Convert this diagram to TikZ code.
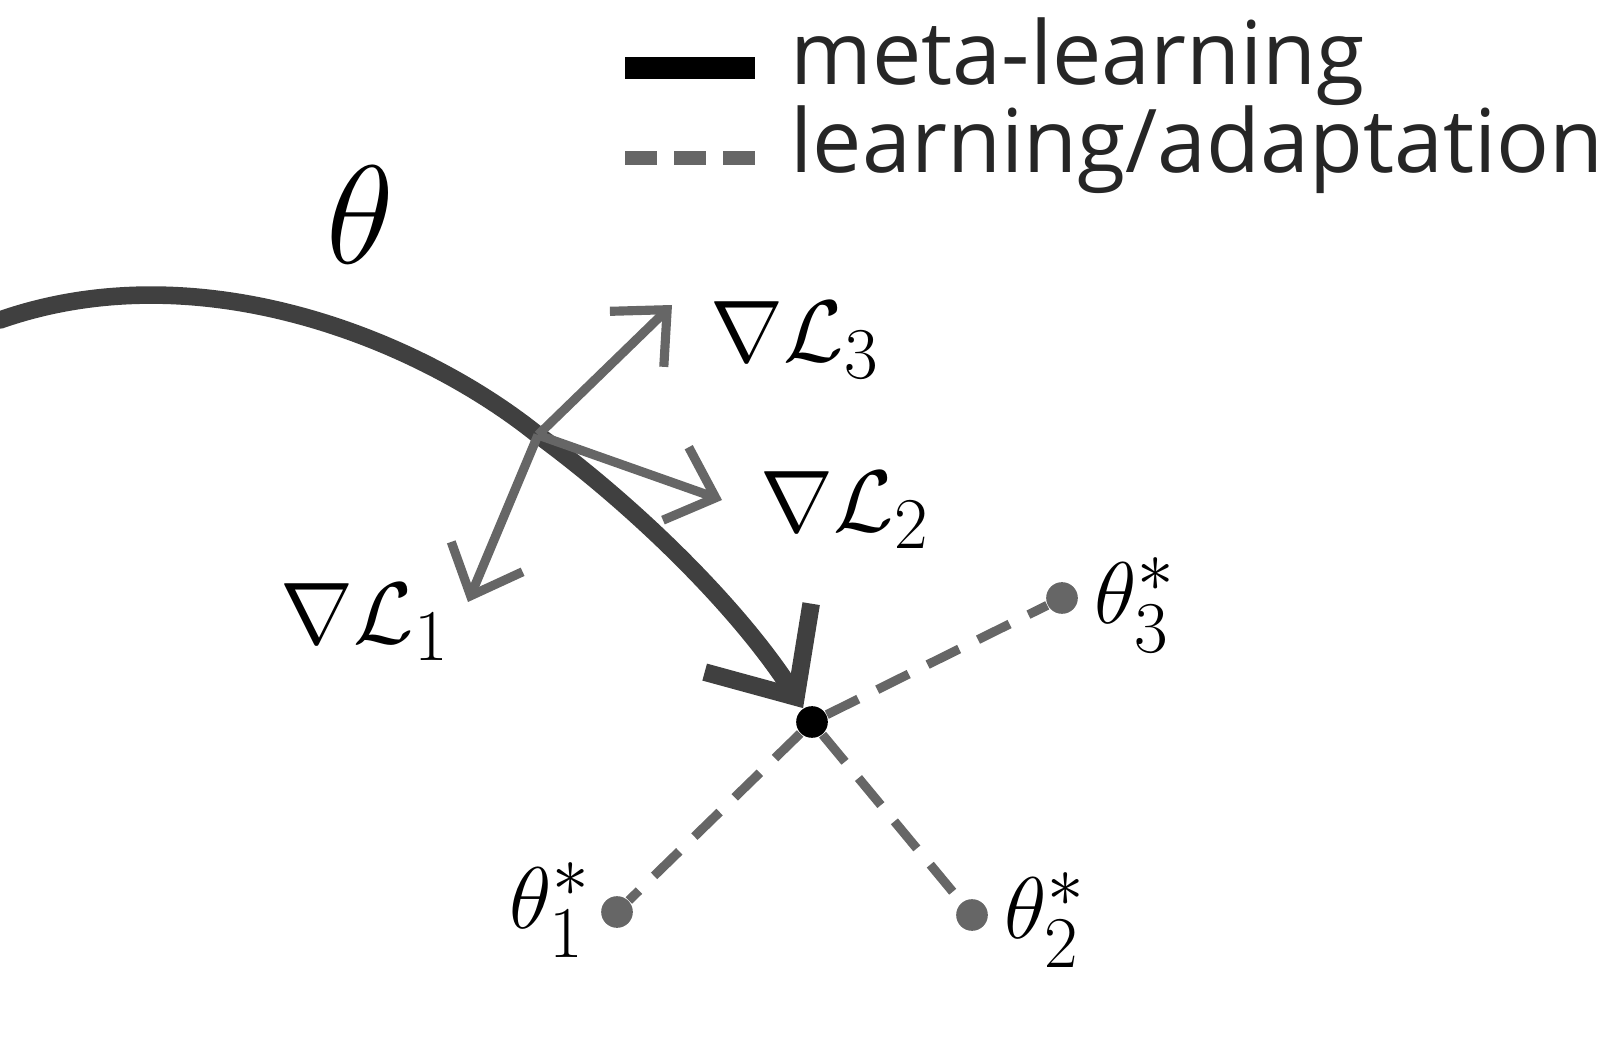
\documentclass[tikz,border=0pt]{standalone}
\usepackage{fontspec}
\setsansfont{Open Sans}
\usetikzlibrary{calc, positioning, arrows.meta}
\usepackage{amsmath}
\begin{document}
\begin{tikzpicture}[x=0.01cm, y=-0.01cm,
  pt/.style={fill=black!60, circle, inner sep=0pt, minimum size=9pt},
  grad/.style={->, black!60, line width=2.6pt, >={Straight Barb[length=12pt, width=22pt, line width=2.6pt]}},
  adapt/.style={dashed, black!60, line width=2.6pt, dash pattern=on 10pt off 6pt},
  lbl/.style={inner sep=0pt, font=\fontsize{30}{30}\selectfont},
  leg/.style={inner sep=0pt, anchor=west, font=\sffamily\fontsize{25}{25}\selectfont, text=black!85}]
  \useasboundingbox (0,0) rectangle (1615,1037);

  % legend
  \coordinate (m1) at (625,68);
  \coordinate (m2) at (755,68);
  \coordinate (d1) at (625,158);
  \coordinate (d2) at (755,158);
  \draw[line width=6pt, black] (m1) -- (m2);
  \draw[adapt, line width=4pt, dash pattern=on 9pt off 5pt] (d1) -- (d2);
  \node[leg] (tm) at (790,62) {meta-learning};
  \node[leg] (tl) at (790,150) {learning/adaptation};

  % meta-learning path
  \coordinate (s) at (0,320);
  \coordinate (g) at (538,435);
  \node[fill=black, circle, inner sep=0pt, minimum size=9pt] (c) at (812,722) {};
  \draw[black!75, line width=5pt, line cap=round] (s) .. controls (200,250) and (420,340) .. (g);
  \draw[black!75, line width=5pt, -{Straight Barb[length=20pt, width=36pt, line width=5pt]}]
    (g) .. controls (640,510) and (740,610) .. (c);
  \node[lbl, scale=1.6] (th) at (360,215) {$\theta$};

  % gradients
  \coordinate (e3) at (672,305);
  \coordinate (e2) at (722,500);
  \coordinate (e1) at (468,602);
  \draw[grad] (g) -- (e3);
  \draw[grad] (g) -- (e2);
  \draw[grad] (g) -- (e1);
  \node[lbl] (L3) at (795,340) {$\nabla\mathcal{L}_3$};
  \node[lbl] (L2) at (845,510) {$\nabla\mathcal{L}_2$};
  \node[lbl] (L1) at (365,622) {$\nabla\mathcal{L}_1$};

  % adaptation
  \node[pt] (p1) at (617,912) {};
  \node[pt] (p2) at (972,915) {};
  \node[pt] (p3) at (1062,598) {};
  \draw[adapt] (c) -- (p1);
  \draw[adapt] (c) -- (p2);
  \draw[adapt] (c) -- (p3);
  \node[lbl] (t1) at (550,910) {$\theta_1^*$};
  \node[lbl] (t2) at (1045,920) {$\theta_2^*$};
  \node[lbl] (t3) at (1135,605) {$\theta_3^*$};
\end{tikzpicture}
\end{document}
